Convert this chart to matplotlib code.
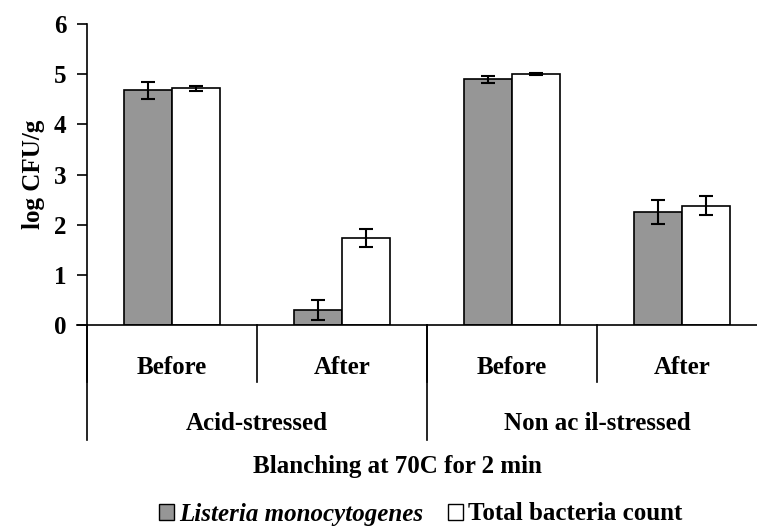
import matplotlib.pyplot as plt
from matplotlib.patches import Patch

# data
conditions = ['Before', 'After', 'Before', 'After']
groups = ['Acid-stressed', 'Non ac il-stressed']
listeria = [4.68, 0.30, 4.90, 2.26]
listeria_err = [0.17, 0.20, 0.07, 0.24]
total = [4.72, 1.74, 5.00, 2.38]
total_err = [0.05, 0.18, 0.02, 0.19]
yticks = [0, 1, 2, 3, 4, 5, 6]

plt.rcParams['font.family'] = ['Liberation Serif', 'DejaVu Serif']
plt.rcParams['font.weight'] = 'bold'

fig = plt.figure(figsize=(7.57, 5.31), dpi=100)
ax = fig.add_axes([87/757, 1 - 325/531, 680/757, 301/531])

x = list(range(len(conditions)))
w = 0.285
ax.bar([i - w/2 for i in x], listeria, w, color='#969696', edgecolor='black', linewidth=1.2,
       yerr=listeria_err, capsize=5, error_kw=dict(elinewidth=1.5, capthick=1.5, ecolor='black'))
ax.bar([i + w/2 for i in x], total, w, color='white', edgecolor='black', linewidth=1.2,
       yerr=total_err, capsize=5, error_kw=dict(elinewidth=1.5, capthick=1.5, ecolor='black'))

ax.set_xlim(-0.5, 3.5)
ax.set_ylim(0, 6)
ax.set_yticks(yticks)
ax.set_xticks([])
for s in ['top', 'right']:
    ax.spines[s].set_visible(False)
ax.spines['left'].set_linewidth(1.2)
ax.spines['bottom'].set_linewidth(1.2)
ax.spines['bottom'].set_bounds(-0.56, 3.5)
ax.tick_params(axis='y', direction='out', length=7, width=1.2, labelsize=18, pad=8)
for t in ax.get_yticklabels():
    t.set_fontweight('bold')
ax.set_ylabel('log CFU/g', fontsize=18, fontweight='bold', labelpad=6)

# category separators and labels below the axis
for xb in [-0.5, 0.5, 1.5, 2.5, 3.5]:
    ax.plot([xb, xb], [0, -1.14], color='black', lw=1.2, clip_on=False)
for xb in [-0.5, 1.5, 3.5]:
    ax.plot([xb, xb], [0, -2.29], color='black', lw=1.2, clip_on=False)
for i, c in enumerate(conditions):
    ax.text(i, -0.84, c, ha='center', va='center', fontsize=18, fontweight='bold')
for j, g in enumerate(groups):
    ax.text(0.5 + 2*j, -1.97, g, ha='center', va='center', fontsize=18, fontweight='bold')

fig.text(397/757, 1 - 467/531, 'Blanching at 70C for 2 min', ha='center', va='center',
         fontsize=18, fontweight='bold')

handles = [Patch(facecolor='#969696', edgecolor='black', lw=1),
           Patch(facecolor='white', edgecolor='black', lw=1)]
leg = fig.legend(handles, ['Listeria monocytogenes', 'Total bacteria count'],
                 loc='center', bbox_to_anchor=(421/757, 1 - 514/531), ncol=2, frameon=False,
                 fontsize=18, handlelength=0.6, handleheight=0.6, handletextpad=0.2,
                 columnspacing=1.0)
leg.get_texts()[0].set_fontstyle('italic')
leg.get_texts()[0].set_fontweight('bold')
leg.get_texts()[1].set_fontweight('bold')

fig.savefig('out.png', dpi=100)
